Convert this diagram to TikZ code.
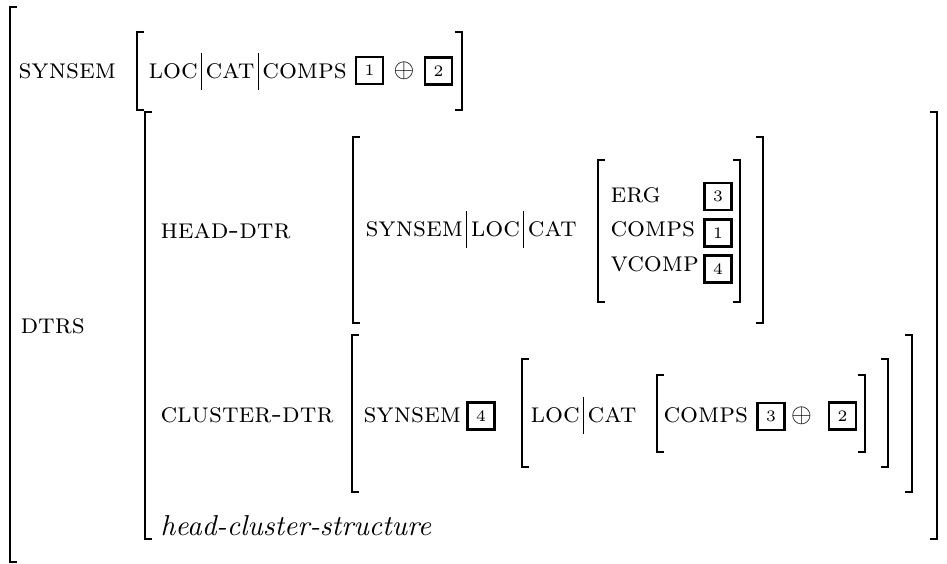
\documentclass[tikz,border=0pt]{standalone}
\newcommand{\pbar}{\kern1.3pt\vrule height 9.5pt depth 4.5pt width 0.35pt\kern1.3pt}
\begin{document}
\begin{tikzpicture}[x=0.375pt,y=-0.375pt,
    attr/.style={anchor=base west,inner sep=0pt,font=\fontsize{10.6}{12}\selectfont\scshape},
    tagbox/.style={draw,line width=0.9pt,minimum size=10pt,inner sep=0pt,font=\fontsize{6}{7}\selectfont},
    brk/.style={line width=0.45pt},
    brkend/.style={line width=0.95pt}]
  \useasboundingbox (0,0) rectangle (947,563);
  \foreach \x/\t/\b/\d in {10/7/562/1, 137/32/110/1, 462/32/110/-1,
      145/112/539/1, 937/112/539/-1, 353/137/323/1, 763/137/323/-1,
      598/160/302/1, 740/160/302/-1, 352/335/492/1, 912/335/492/-1,
      522/359/467/1, 888/359/467/-1, 657/375/452/1, 865/375/452/-1}
  {
    \draw[brk] (\x,\t) -- (\x,\b);
    \draw[brkend] (\x+7*\d,\t) -- (\x,\t) -- (\x,\t+46);
    \draw[brkend] (\x,\b-46) -- (\x,\b) -- (\x+7*\d,\b);
  }
  \node[attr] (synsem) at (18,78) {synsem};
  \node[attr] (path) at (148,78) {loc\pbar cat\pbar comps};
  \node[tagbox] (tagA) at (369.5,70.5) {1};
  \node (plusA) at (404,70.5) {$\oplus$};
  \node[tagbox] (tagB) at (438.5,71) {2};
  \node[attr] (dtrs) at (20,333) {dtrs};
  \node[attr] (hdtr) at (160,238) {head-dtr};
  \node[attr] (hpath) at (365,236) {synsem\pbar loc\pbar cat};
  \node[attr] (erg) at (610,202) {erg};
  \node[tagbox] (tagC) at (718,196.5) {3};
  \node[attr] (comps) at (610,236) {comps};
  \node[tagbox] (tagD) at (718,233) {1};
  \node[attr] (vcomp) at (610,271) {vcomp};
  \node[tagbox] (tagE) at (718,269) {4};
  \node[attr] (cdtr) at (160,422) {cluster-dtr};
  \node[attr] (csynsem) at (363,422) {synsem};
  \node[tagbox] (tagF) at (481,416) {4};
  \node[attr] (cpath) at (530,422) {loc\pbar cat};
  \node[attr] (ccomps) at (663,422) {comps};
  \node[tagbox] (tagG) at (771,416.5) {3};
  \node (plusB) at (801.5,416) {$\oplus$};
  \node[tagbox] (tagH) at (842.5,416) {2};
  \node[anchor=base west,inner sep=0pt,font=\fontsize{10.8}{13}\selectfont] (type) at (160,535) {\textit{head-cluster-structure}};
\end{tikzpicture}
\end{document}
